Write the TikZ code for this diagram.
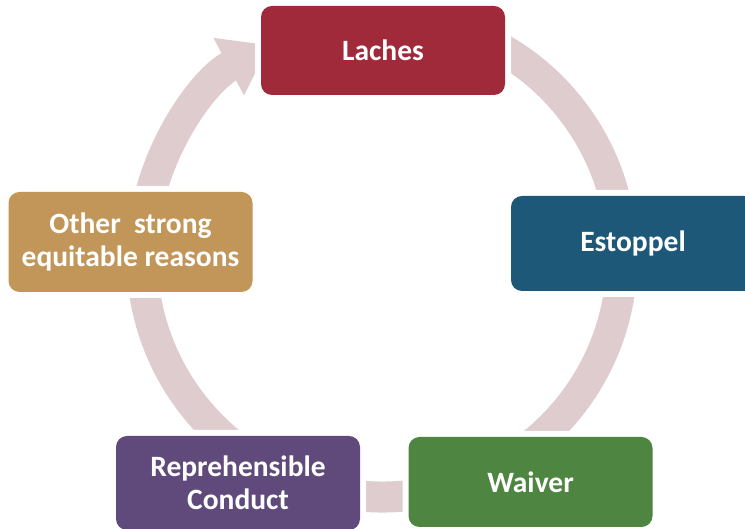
\documentclass[tikz,border=0pt]{standalone}
\usepackage{fontspec}
\setmainfont{Carlito}
\usetikzlibrary{arrows.meta}

\definecolor{lachesred}{HTML}{A0293A}
\definecolor{estoppelblue}{HTML}{1D5879}
\definecolor{waivergreen}{HTML}{4E8541}
\definecolor{conductpurple}{HTML}{604A7B}
\definecolor{reasonstan}{HTML}{C29658}
\definecolor{ringpink}{HTML}{DFCCCE}

\tikzset{
	stage/.style={fill=#1, rounded corners=11pt, minimum width=244pt, align=center,
		text=white, font=\fontsize{29.5}{33.5}\selectfont\bfseries,
		preaction={draw=white, line width=12pt}},
	ring/.style={draw=ringpink, line width=31pt}
}

\begin{document}
\begin{tikzpicture}[x=1pt, y=1pt]
		\clip (0, 0) rectangle (745, 529);
		\coordinate (C) at (382, 272);
		% cycle ring, ends with the arrow into Laches
		\draw[ring, -{Triangle[width=62pt, length=46pt]}] ([shift={(80:240)}]C) arc[start angle=80, end angle=-242, radius=240];
		\node[stage=lachesred, minimum height=89pt] (Laches) at (383, 478.5) {Laches};
		\node[stage=estoppelblue, minimum height=95pt] (Estoppel) at (633, 285.5) {Estoppel};
		\node[stage=waivergreen, minimum height=90pt] (Waiver) at (530.5, 47) {Waiver};
		\node[stage=conductpurple, minimum height=94pt] (Conduct) at (238, 46) {Reprehensible\\Conduct};
		\node[stage=reasonstan, minimum height=100pt] (Reasons) at (130.5, 287) {Other\ \ strong\\equitable reasons};
	\end{tikzpicture}
\end{document}
